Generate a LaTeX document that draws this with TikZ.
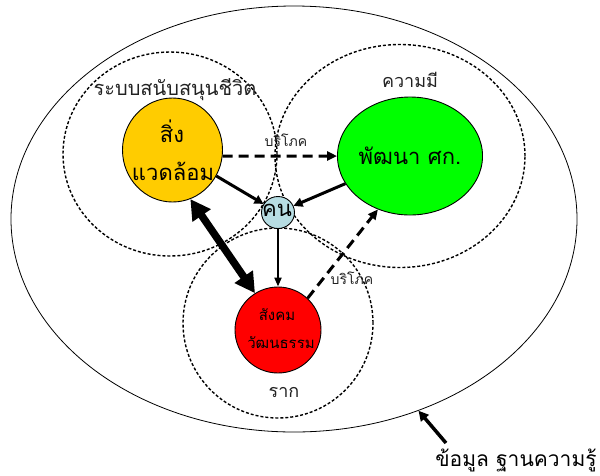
\documentclass[tikz,border=0pt]{standalone}
\usepackage{fontspec}
\setmainfont[Script=Thai]{Loma}
\usetikzlibrary{arrows.meta,shapes.geometric}
\definecolor{yel}{HTML}{FFCC00}
\definecolor{grn}{HTML}{00FF00}
\definecolor{lblue}{HTML}{B7DDE3}
\definecolor{rd}{HTML}{FF0000}
\definecolor{txtgray}{HTML}{222222}
\begin{document}
\begin{tikzpicture}[x=1pt,y=-1pt,
  zone/.style={draw,ellipse,inner sep=0pt,line width=1.4pt,dash pattern=on 3pt off 2pt},
  ball/.style={draw,ellipse,inner sep=0pt,line width=0.9pt,align=center},
  lbl/.style={inner sep=0pt,text=txtgray},
  dasharrow/.style={line width=3pt,dash pattern=on 10pt off 6pt,-{Triangle[length=10pt,width=9pt]}},
  solidarrow/.style={line width=3pt,-{Triangle[length=9pt,width=9pt]}},
  thinarrow/.style={line width=2pt,-{Triangle[length=9pt,width=7pt]}},
  bigarrow/.style={line width=7.5pt,{Triangle[length=20pt,width=21pt]}-{Triangle[length=20pt,width=21pt]}}
]
\useasboundingbox (0,0) rectangle (600,475);
% outer ellipse
\node[draw,ellipse,inner sep=0pt,line width=0.8pt,minimum width=566pt,minimum height=426pt] (big) at (294,219) {};
% zones
\node[zone,minimum width=214pt,minimum height=204pt] (z1) at (170,154) {};
\node[zone,minimum width=250pt,minimum height=223pt] (z2) at (400,156) {};
\node[zone,minimum width=190pt,minimum height=190pt] (z3) at (278,323) {};
% zone labels
\node[lbl,font=\fontsize{20}{20}\selectfont] (l1) at (175,90) {ระบบสนับสนุนชีวิต};
\node[lbl,font=\fontsize{18}{18}\selectfont] (l2) at (410,80) {ความมี};
\node[lbl,font=\fontsize{18}{18}\selectfont] (l3) at (284,392) {ราก};
\node[lbl,font=\fontsize{14}{14}\selectfont] (b1) at (286,140) {บริโภค};
\node[lbl,font=\fontsize{14}{14}\selectfont] (b2) at (352,278) {บริโภค};
% balls
\node[ball,fill=yel,minimum width=100pt,minimum height=104pt] (env) at (172.5,150) {};
\node[lbl,text=black,font=\fontsize{22}{22}\selectfont] (envt1) at (172,131) {สิ่ง};
\node[lbl,text=black,font=\fontsize{22}{22}\selectfont] (envt2) at (173,171) {แวดล้อม};
\node[ball,fill=grn,minimum width=124pt,minimum height=118pt,font=\fontsize{22}{22}\selectfont] (eco) at (410,156) {พัฒนา ศก.};
\node[ball,fill=lblue,minimum width=33pt,minimum height=32pt] (man) at (278,212.5) {};
\node[lbl,text=black,font=\fontsize{22}{22}\selectfont] (mant) at (277,210) {คน};
\node[ball,fill=rd,minimum width=86pt,minimum height=86pt] (soc) at (278,330) {};
\node[lbl,text=black,font=\fontsize{15}{15}\selectfont] (soct1) at (277,315) {สังคม};
\node[lbl,text=black,font=\fontsize{15}{15}\selectfont] (soct2) at (281,343) {วัฒนธรรม};
% connectors
\draw[dasharrow] (env.-7) -- (eco.180);
\draw[solidarrow] (env) -- (man);
\draw[solidarrow] (eco) -- (man);
\draw[thinarrow] (man) -- (soc);
\draw[bigarrow] (env.-70) -- (soc.122);
\draw[dasharrow] (soc.47) -- (eco.239);
% knowledge
\node[lbl,font=\fontsize{21}{21}\selectfont,text=black] (know) at (516,460) {ข้อมูล ฐานความรู้};
\coordinate (kstart) at (446,443);
\draw[line width=3.5pt,-{Triangle[length=10pt,width=10pt]}] (kstart) -- (big.-57);
\end{tikzpicture}
\end{document}
